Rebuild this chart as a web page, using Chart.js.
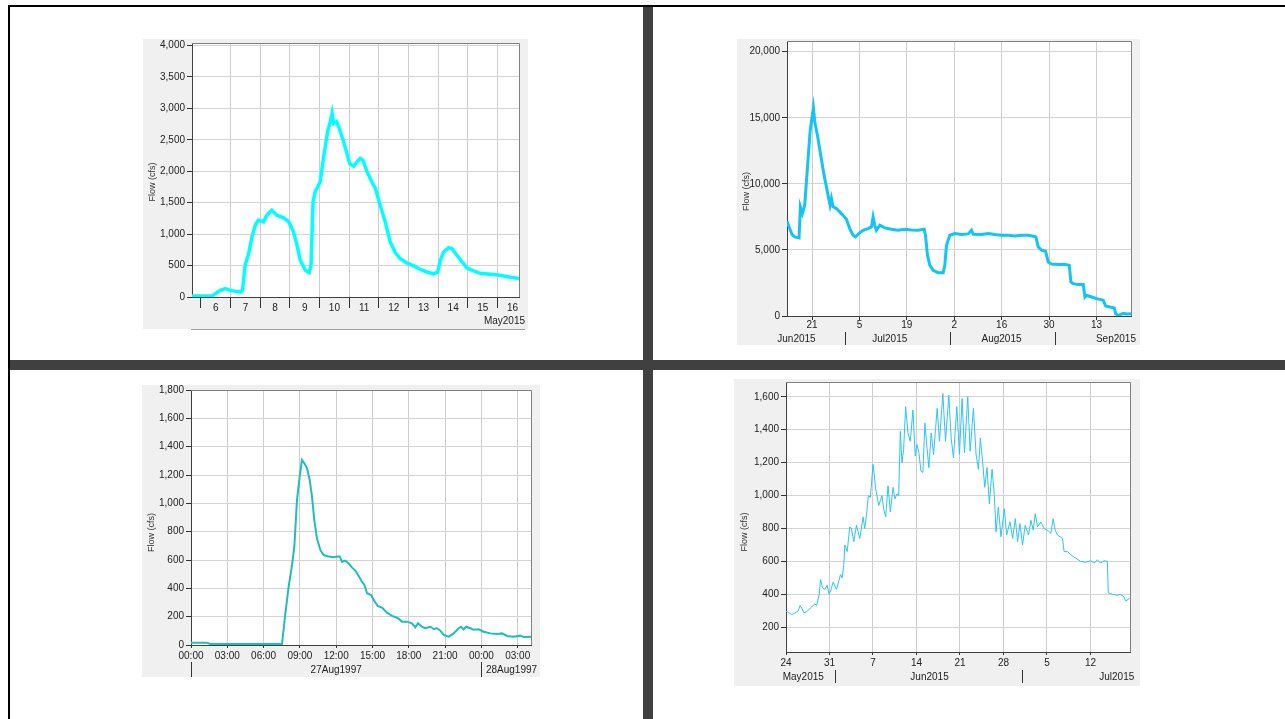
<!DOCTYPE html>
<html>
<head>
<meta charset="utf-8">
<title>Flow (cfs)</title>
<script src="https://cdn.jsdelivr.net/npm/chart.js"></script>
<style>
  body { margin: 0; width: 1285px; height: 719px; position: relative; overflow: hidden; background: #fff; }
  .bar { position: absolute; }
  .box { position: absolute; background: #f0f0f0; }
  .box canvas { display: block; }
</style>
</head>
<body>
<div class="bar" style="left:8px;top:5px;width:1277px;height:2px;background:#000"></div>
<div class="bar" style="left:8px;top:5px;width:2px;height:714px;background:#000"></div>
<div class="bar" style="left:643px;top:7px;width:10px;height:712px;background:#404040"></div>
<div class="bar" style="left:10px;top:360px;width:1275px;height:10px;background:#404040"></div>

<div class="box" style="left:143px;top:39px"><canvas id="c1" width="385" height="290"></canvas></div>
<div class="bar" style="left:191px;top:329px;width:334px;height:1px;background:#a0a0a0"></div>
<div class="box" style="left:737px;top:39px"><canvas id="c2" width="403" height="306"></canvas></div>
<div class="box" style="left:142px;top:385px"><canvas id="c3" width="398" height="292"></canvas></div>
<div class="box" style="left:734px;top:379px"><canvas id="c4" width="406" height="307"></canvas></div>

<script>
// ---- top left: May 2015 (x = day of month) ----
const mayDays = [5.70,6.37,6.48,6.65,6.82,6.99,7.16,7.33,7.40,7.49,
  7.61,7.72,7.83,7.94,8.11,8.22,8.39,8.56,8.79,8.96,
  9.12,9.24,9.35,9.52,9.65,9.71,9.78,9.85,10.02,10.13,
  10.27,10.36,10.42,10.47,10.58,10.70,10.81,10.92,11.01,11.15,
  11.26,11.37,11.46,11.60,11.76,11.88,12.04,12.21,12.38,12.55,
  12.72,12.94,13.17,13.39,13.62,13.84,13.98,14.07,14.18,14.35,
  14.46,14.63,14.80,14.97,15.19,15.42,15.75,16.09,16.43,16.72];
const mayFlow = [15,15,50,106,133,106,90,80,106,505,
  690,956,1142,1222,1195,1301,1381,1301,1259,1195,
  1036,823,584,425,388,505,1514,1673,1833,2205,
  2629,2789,2922,2762,2789,2629,2470,2284,2125,2082,
  2151,2205,2178,1992,1833,1726,1461,1195,876,707,
  611,542,494,441,398,367,398,584,717,786,
  770,664,558,462,414,377,361,345,313,292];
const mayGrid = [6,7,8,9,10,11,12,13,14,15,16];
const mayLabelPos = [6.5,7.5,8.5,9.5,10.5,11.5,12.5,13.5,14.5,15.5,16.5];
const mayLabels = ['6','7','8','9','10','11','12','13','14','15','16'];
const mayMonthPos = [16.23];
const mayMonths = ['May2015'];
const mayYTicks = [0,500,1000,1500,2000,2500,3000,3500,4000];

// ---- top right: Jun-Sep 2015 (x = days after 31 May) ----
const sumDays = [13.61,14.40,15.09,15.88,17.16,17.55,18.14,18.83,19.62,20.41,
  21.00,21.39,21.79,22.58,23.56,24.55,25.53,26.32,26.71,27.21,
  28.19,29.67,31.15,32.13,33.12,33.81,34.79,36.07,37.55,38.54,
  39.03,39.52,40.01,41.00,42.48,44.45,46.42,48.39,50.36,52.33,
  54.10,54.50,55.09,55.78,56.76,58.24,59.72,60.21,60.70,61.69,
  63.17,65.14,67.11,68.09,68.59,71.05,73.02,74.99,76.96,78.93,
  80.90,82.87,84.84,86.32,87.11,87.80,88.78,89.97,90.75,91.74,
  93.71,95.68,96.96,97.45,98.14,99.62,101.10,101.59,102.08,103.56,
  105.04,107.01,107.70,108.98,110.26,110.65,111.44,112.92,113.91,115.19];
const sumFlow = [7171,6615,6161,5984,5909,8257,7752,8383,11160,13940,
  15070,15760,14700,13690,12170,10660,9390,8380,8890,8260,
  8130,7750,7320,6615,6110,5985,6240,6490,6615,6740,
  7500,6870,6490,6870,6670,6560,6490,6560,6515,6490,
  6560,6110,4600,3840,3460,3280,3280,3840,5350,6110,
  6240,6160,6210,6490,6190,6160,6240,6160,6110,6110,
  6060,6110,6110,6035,5985,5230,4975,4900,4090,3940,
  3890,3890,3840,2575,2450,2375,2375,1440,1565,1440,
  1313,1187,757,682,606,177,50,200,150,177];
const sumGrid = [21,35,49,63,77,91,105];
const sumLabels = ['21','5','19','2','16','30','13'];
const sumMonthSep = [31,62,93];
const sumMonthPos = [16.4,43.96,76.96,110.75];
const sumMonths = ['Jun2015','Jul2015','Aug2015','Sep2015'];
const sumYTicks = [0,5000,10000,15000,20000];

// ---- bottom left: 27-28 Aug 1997 (x = hours from 00:00 27Aug) ----
const augHours = [0,1.32,1.60,7.52,7.80,8.07,8.35,8.54,8.76,8.98,
  9.17,9.37,9.59,9.81,10.00,10.19,10.41,10.69,10.96,11.38,
  11.79,12.07,12.29,12.48,12.75,13.03,13.31,13.58,13.86,14.13,
  14.33,14.55,14.88,15.10,15.43,15.79,16.20,16.61,17.08,17.44,
  17.85,18.26,18.54,18.76,19.09,19.37,19.78,20.06,20.33,20.61,
  20.88,21.30,21.71,22.12,22.31,22.53,22.75,23.09,23.36,23.77,
  24.19,24.74,25.29,25.70,26.12,26.67,27.22,27.49,28.10];
const augFlow = [16,16,7,7,224,412,565,694,1024,1188,
  1306,1282,1247,1165,1047,882,753,671,635,624,
  619,624,624,588,595,576,546,525,487,447,
  424,365,353,318,275,264,228,205,191,165,
  165,153,125,153,129,118,129,113,118,101,
  71,59,82,118,129,111,129,118,108,111,
  94,82,78,82,64,59,66,56,59];
const augGrid = [0,3,6,9,12,15,18,21,24,27];
const augLabels = ['00:00','03:00','06:00','09:00','12:00','15:00','18:00','21:00','00:00','03:00'];
const augDaySep = [0,24];
const augDayPos = [12,26.49];
const augDays = ['27Aug1997','28Aug1997'];
const augYTicks = [0,200,400,600,800,1000,1200,1400,1600,1800];

// ---- bottom right: May-Jul 2015 (x = days after 30 Apr) ----
const mjDays = [24.00,24.37,24.91,25.44,25.98,26.25,26.51,26.89,27.42,27.96,
  28.65,28.92,29.35,29.56,29.88,30.26,30.63,30.95,31.17,31.59,
  32.13,32.77,33.04,33.30,33.47,33.84,34.27,34.53,34.91,35.34,
  35.87,36.41,36.67,36.94,37.26,37.58,38.01,38.44,38.92,39.45,
  39.72,40.04,40.42,40.79,41.22,41.54,41.86,42.13,42.40,42.66,
  42.93,43.25,43.63,44.00,44.43,44.80,45.07,45.39,45.71,46.03,
  46.35,46.67,46.99,47.37,47.74,48.06,48.33,48.70,49.24,49.67,
  50.20,50.58,50.95,51.49,51.91,52.34,52.72,53.25,53.63,54.16,
  54.59,54.96,55.28,55.66,55.98,56.35,56.73,57.16,57.53,57.80,
  58.17,58.60,59.13,59.51,60.04,60.47,60.90,61.27,61.65,62.07,
  62.50,63.04,63.41,63.79,64.11,64.48,65.02,65.55,66.09,66.62,
  66.99,67.32,67.69,68.12,68.49,68.76,69.29,69.83,70.63,71.43,
  72.24,73.04,73.57,74.11,74.64,75.18,75.71,75.87,76.51,77.32,
  77.85,78.39,78.65,79.29];
const mjFlow = [297,291,277,287,301,332,318,287,297,318,
  342,332,400,490,440,430,455,400,420,475,
  430,520,500,580,700,660,810,800,720,820,
  740,870,800,880,1000,990,1190,1040,940,1000,
  920,870,1060,900,1050,980,1010,1000,1390,1200,
  1280,1540,1380,1330,1520,1240,1310,1260,1150,1140,
  1440,1300,1170,1380,1250,1400,1530,1330,1620,1330,
  1610,1350,1230,1540,1250,1590,1260,1600,1270,1530,
  1250,1160,1350,1200,1050,1170,950,1160,1000,780,
  930,750,920,760,840,740,860,720,830,700,
  820,760,850,790,890,810,840,800,790,770,
  860,790,760,750,740,660,660,640,620,600,
  595,605,590,610,590,605,600,410,400,395,
  400,385,360,375];
const mjGrid = [24,31,38,45,52,59,66,73];
const mjLabels = ['24','31','7','14','21','28','5','12'];
const mjMonthSep = [32,62];
const mjMonthPos = [26.78,47.1,77.23];
const mjMonths = ['May2015','Jun2015','Jul2015'];
const mjYTicks = [200,400,600,800,1000,1200,1400,1600];

const FONT = '"Liberation Sans", Arial, sans-serif';
const CLEAR = 'rgba(0,0,0,0)';

// white plot area + thin frame on top/right
const framePlugin = {
  id: 'frame',
  beforeDraw(chart) {
    const { ctx, chartArea: a } = chart;
    ctx.save();
    ctx.fillStyle = '#fff';
    ctx.fillRect(a.left, a.top, a.width, a.height);
    ctx.restore();
  },
  afterDraw(chart) {
    const { ctx, chartArea: a } = chart;
    ctx.save();
    ctx.strokeStyle = '#808080';
    ctx.lineWidth = 1;
    ctx.beginPath();
    ctx.moveTo(a.left, Math.round(a.top) + 0.5);
    ctx.lineTo(Math.round(a.right) + 0.5, Math.round(a.top) + 0.5);
    ctx.lineTo(Math.round(a.right) + 0.5, a.bottom);
    ctx.stroke();
    ctx.restore();
  }
};

// rotated axis title, a bit below the middle like the original
const yTitlePlugin = {
  id: 'yTitle',
  afterDraw(chart, args, opts) {
    const { ctx, chartArea: a } = chart;
    ctx.save();
    ctx.translate(opts.x, (a.top + a.bottom) / 2 + opts.dy);
    ctx.rotate(-Math.PI / 2);
    ctx.font = '9px ' + FONT;
    ctx.fillStyle = '#333';
    ctx.textAlign = 'center';
    ctx.textBaseline = 'middle';
    ctx.fillText(opts.text, 0, 0);
    ctx.restore();
  }
};

function flowChart(id, p) {
  const rowText = new Map(p.rowPos.map((v, i) => [v, p.rowText[i]]));
  const rowVals = [...new Set([...p.grid, ...p.rowPos])].sort((a, b) => a - b);
  const gridOn = new Set(p.grid.filter(v => !(p.noGrid || []).includes(v)));
  const tickOn = new Set(p.grid);
  const monText = new Map(p.monPos.map((v, i) => [v, p.monText[i]]));
  const monVals = [...p.monSep, ...p.monPos].sort((a, b) => a - b);
  const sepOn = new Set(p.monSep);
  // fixed box sizes so the plot sits where it does in the original
  const fixX = h => sc => { sc.height = h; sc.paddingLeft = 0; sc.paddingRight = 0; };

  return new Chart(document.getElementById(id), {
    type: 'line',
    data: {
      datasets: [{
        data: p.xs.map((v, i) => ({ x: v, y: p.ys[i] })),
        borderColor: p.color,
        borderWidth: p.lw,
        pointRadius: 0,
        tension: 0,
        fill: false
      }]
    },
    options: {
      responsive: false,
      animation: false,
      events: [],
      layout: { padding: { left: 0, top: p.padTop, right: p.padRight, bottom: 0 } },
      plugins: {
        legend: { display: false },
        tooltip: { enabled: false },
        yTitle: { text: 'Flow (cfs)', x: p.titleX, dy: p.titleDy }
      },
      scales: {
        x: {
          type: 'linear', position: 'bottom', min: p.xMin, max: p.xMax, weight: 0,
          afterBuildTicks: sc => { sc.ticks = rowVals.map(v => ({ value: v })); },
          afterFit: fixX(p.h1),
          ticks: {
            autoSkip: false, maxRotation: 0, padding: p.pad1, color: '#222',
            font: { family: FONT, size: 10 },
            callback: v => rowText.get(v) ?? ''
          },
          grid: {
            color: c => gridOn.has(c.tick && c.tick.value) ? '#cdcdcd' : CLEAR,
            tickColor: c => tickOn.has(c.tick && c.tick.value) ? '#333' : CLEAR,
            tickLength: p.tl1
          },
          border: { color: '#404040' }
        },
        x2: {
          type: 'linear', position: 'bottom', min: p.xMin, max: p.xMax, weight: 1,
          afterBuildTicks: sc => { sc.ticks = monVals.map(v => ({ value: v })); },
          afterFit: fixX(p.h2),
          ticks: {
            autoSkip: false, maxRotation: 0, padding: p.pad2, color: '#222',
            font: { family: FONT, size: 10 },
            callback: v => monText.get(v) ?? ''
          },
          grid: {
            display: p.monSep.length > 0,
            drawOnChartArea: false,
            color: CLEAR,
            tickColor: c => sepOn.has(c.tick && c.tick.value) ? '#333' : CLEAR,
            tickLength: p.tl2
          },
          border: { display: false }
        },
        y: {
          type: 'linear', min: p.yMin, max: p.yMax,
          afterBuildTicks: sc => { sc.ticks = p.yTicks.map(v => ({ value: v })); },
          afterFit: sc => { sc.width = p.yw; sc.paddingTop = 0; sc.paddingBottom = 0; },
          ticks: {
            padding: 2, color: '#222',
            font: { family: FONT, size: 10, lineHeight: 1 },
            callback: v => v.toLocaleString('en-US')
          },
          grid: { color: '#d4d4d4', tickColor: '#333', tickLength: 5 },
          border: { color: '#404040' }
        }
      }
    },
    plugins: [framePlugin, yTitlePlugin]
  });
}

flowChart('c1', {
  xs: mayDays, ys: mayFlow, color: '#00ffff', lw: 3.5,
  xMin: 5.70, xMax: 16.72, yMin: 0, yMax: 4040, yTicks: mayYTicks,
  grid: mayGrid, noGrid: [6], rowPos: mayLabelPos, rowText: mayLabels,
  monSep: [], monPos: mayMonthPos, monText: mayMonths,
  padTop: 4, padRight: 9, yw: 49, h1: 14, tl1: 11, pad1: -6, h2: 18, tl2: 0, pad2: 4,
  titleX: 10, titleDy: 12
});

flowChart('c2', {
  xs: sumDays, ys: sumFlow, color: '#14c4f5', lw: 3,
  xMin: 13.6, xMax: 115.2, yMin: 0, yMax: 20810, yTicks: sumYTicks,
  grid: sumGrid, rowPos: sumGrid, rowText: sumLabels,
  monSep: sumMonthSep, monPos: sumMonthPos, monText: sumMonths,
  padTop: 2, padRight: 9, yw: 50, h1: 16, tl1: 4, pad1: -1, h2: 13, tl2: 13, pad2: -12,
  titleX: 10, titleDy: 13
});

flowChart('c3', {
  xs: augHours, ys: augFlow, color: '#22bcbc', lw: 2,
  xMin: 0, xMax: 28.1, yMin: 0, yMax: 1800, yTicks: augYTicks,
  grid: augGrid, rowPos: augGrid, rowText: augLabels,
  monSep: augDaySep, monPos: augDayPos, monText: augDays,
  padTop: 5, padRight: 9, yw: 49, h1: 17, tl1: 3, pad1: 2, h2: 15, tl2: 15, pad2: -13,
  titleX: 10, titleDy: 15
});

flowChart('c4', {
  xs: mjDays, ys: mjFlow, color: '#2ec4f4', lw: 1,
  xMin: 24, xMax: 79.36, yMin: 50, yMax: 1690, yTicks: mjYTicks,
  grid: mjGrid, rowPos: mjGrid, rowText: mjLabels,
  monSep: mjMonthSep, monPos: mjMonthPos, monText: mjMonths,
  padTop: 3, padRight: 10, yw: 52, h1: 18, tl1: 3, pad1: 2, h2: 16, tl2: 13, pad2: -12,
  titleX: 11, titleDy: 15
});
</script>
</body>
</html>
